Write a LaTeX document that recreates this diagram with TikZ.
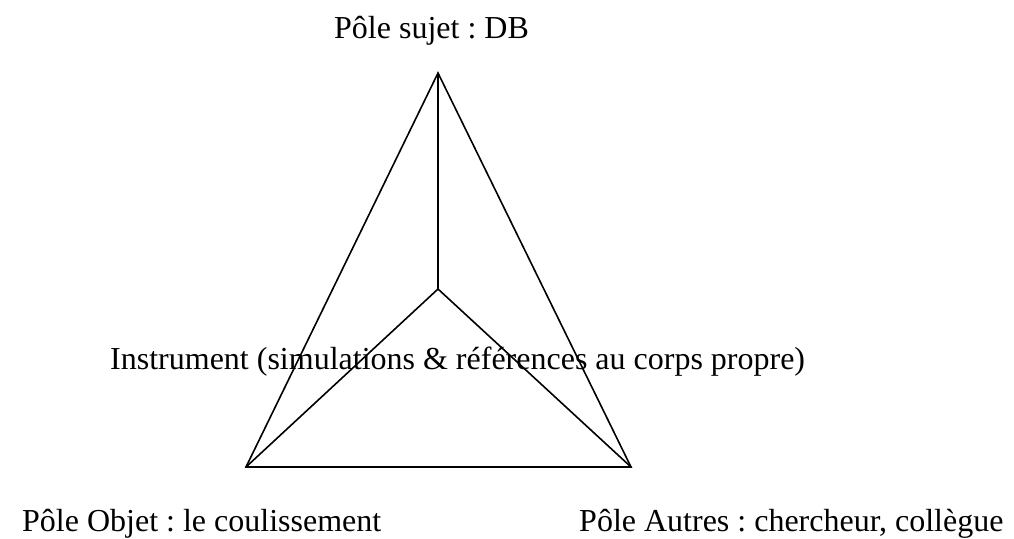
\documentclass[tikz,border=0pt]{standalone}
\usepackage{fontspec}
\setmainfont{Liberation Serif}
\frenchspacing

\begin{document}
\begin{tikzpicture}[x=1pt, y=-1pt]
    \tikzset{pole/.style={anchor=base west, inner sep=0pt, font=\fontsize{32}{38}\selectfont}}
    \tikzset{edge/.style={black, line width=1.6pt, line join=miter}}

    % Fix the page size
    \useasboundingbox (0,0) rectangle (1014,538);

    % Corners of the triangle and its centre
    \coordinate (sujet) at (438,73);
    \coordinate (objet) at (246,467);
    \coordinate (autres) at (631,467);
    \coordinate (centre) at (438,289);

    % Draw triangle
    \draw[edge] (sujet) -- (objet) -- (autres) -- cycle;

    % Draw lines to the centre
    \draw[edge] (centre) -- (sujet);
    \draw[edge] (centre) -- (objet);
    \draw[edge] (centre) -- (autres);

    % Labels
    \node[pole] (labelSujet) at (334,38) {Pôle sujet : DB};
    \node[pole] (labelInstrument) at (110,369) {Instrument (simulations \& références au corps propre)};
    \node[pole] (labelObjet) at (22,531) {Pôle Objet : le coulissement};
    \node[pole] (labelAutres) at (579,531) {Pôle Autres : chercheur, collègue};

\end{tikzpicture}
\end{document}
